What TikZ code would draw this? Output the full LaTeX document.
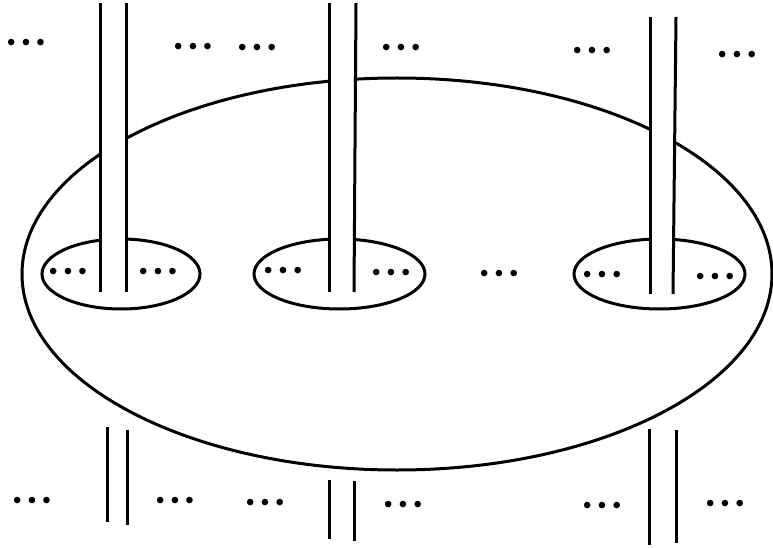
\documentclass[tikz,border=0pt]{standalone}
\usepackage{fontspec}
\newfontfamily\dotfont{Liberation Sans}
\newcommand{\threedots}{•\kern6.3pt•\kern6.3pt•}
\tikzset{
  thick line/.style={line width=3pt},
  dotsnode/.style={inner sep=0pt, font=\dotfont\fontsize{24}{24}\selectfont},
  gapfill/.style={fill=white, draw=none},
}
\begin{document}
\begin{tikzpicture}[x=1pt,y=-1pt]
\useasboundingbox (0,0) rectangle (773,548);
% ellipses
\draw[thick line] (397,274) ellipse [x radius=375pt, y radius=196pt];
\draw[thick line] (121,274) ellipse [x radius=79pt, y radius=35pt];
\draw[thick line] (339.5,274) ellipse [x radius=85.5pt, y radius=35pt];
\draw[thick line] (659.5,274) ellipse [x radius=85.5pt, y radius=35pt];
% coordinates of top strands
\coordinate (p1lt) at (100,3);  \coordinate (p1lb) at (100,292);
\coordinate (p1rt) at (126,3);  \coordinate (p1rb) at (126,292);
\coordinate (p2lt) at (329,3);  \coordinate (p2lb) at (329,292);
\coordinate (p2rt) at (356,3);  \coordinate (p2rb) at (354,292);
\coordinate (p3lt) at (650,17); \coordinate (p3lb) at (650,294);
\coordinate (p3rt) at (676,17); \coordinate (p3rb) at (673,294);
% gaps
\fill[gapfill] (p1lt) -- (p1lb) -- (p1rb) -- (p1rt) -- cycle;
\fill[gapfill] (p2lt) -- (p2lb) -- (p2rb) -- (p2rt) -- cycle;
\fill[gapfill] (p3lt) -- (p3lb) -- (p3rb) -- (p3rt) -- cycle;
% strands
\draw[thick line] (p1lt) -- (p1lb);
\draw[thick line] (p1rt) -- (p1rb);
\draw[thick line] (p2lt) -- (p2lb);
\draw[thick line] (p2rt) -- (p2rb);
\draw[thick line] (p3lt) -- (p3lb);
\draw[thick line] (p3rt) -- (p3rb);
% bottom strands
\coordinate (q1lt) at (107,427); \coordinate (q1lb) at (107,522);
\coordinate (q1rt) at (127,430); \coordinate (q1rb) at (127,525);
\coordinate (q2lt) at (329,480); \coordinate (q2lb) at (329,539);
\coordinate (q2rt) at (354,481); \coordinate (q2rb) at (354,541);
\coordinate (q3lt) at (649,429); \coordinate (q3lb) at (649,545);
\coordinate (q3rt) at (676,430); \coordinate (q3rb) at (676,543);
\draw[thick line] (q1lt) -- (q1lb);
\draw[thick line] (q1rt) -- (q1rb);
\draw[thick line] (q2lt) -- (q2lb);
\draw[thick line] (q2rt) -- (q2rb);
\draw[thick line] (q3lt) -- (q3lb);
\draw[thick line] (q3rt) -- (q3rb);
% dots
\node[dotsnode] (d1) at (26,45) {\threedots};
\node[dotsnode] (d2) at (193,49) {\threedots};
\node[dotsnode] (d3) at (257,50) {\threedots};
\node[dotsnode] (d4) at (401,50) {\threedots};
\node[dotsnode] (d5) at (592,53) {\threedots};
\node[dotsnode] (d6) at (737,57) {\threedots};
\node[dotsnode] (m1) at (68,274) {\threedots};
\node[dotsnode] (m2) at (158,274) {\threedots};
\node[dotsnode] (m3) at (283,273) {\threedots};
\node[dotsnode] (m4) at (391,275) {\threedots};
\node[dotsnode] (m5) at (499,276) {\threedots};
\node[dotsnode] (m6) at (602,277) {\threedots};
\node[dotsnode] (m7) at (715,279) {\threedots};
\node[dotsnode] (b1) at (32,503) {\threedots};
\node[dotsnode] (b2) at (175,503) {\threedots};
\node[dotsnode] (b3) at (265,505) {\threedots};
\node[dotsnode] (b4) at (403,507) {\threedots};
\node[dotsnode] (b5) at (602,508) {\threedots};
\node[dotsnode] (b6) at (725,506) {\threedots};
\end{tikzpicture}
\end{document}
